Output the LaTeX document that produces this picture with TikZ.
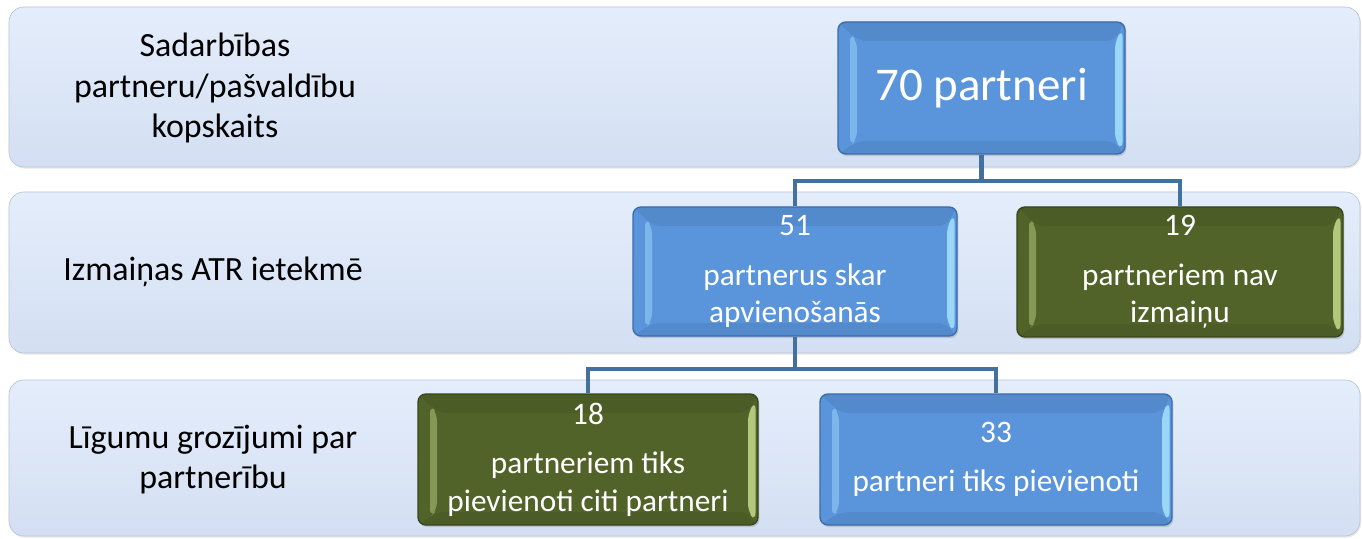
\documentclass[tikz,border=0pt]{standalone}
\definecolor{bandtop}{RGB}{228, 237, 251}
\definecolor{bandbot}{RGB}{211, 223, 242}
\definecolor{banddraw}{RGB}{188, 197, 212}
\definecolor{boxblue}{RGB}{90, 149, 220}
\definecolor{blueedge}{RGB}{60, 108, 170}
\definecolor{boxgreen}{RGB}{82, 99, 41}
\definecolor{greenedge}{RGB}{56, 70, 27}
\definecolor{linkblue}{RGB}{66, 113, 158}
\definecolor{shineblue}{RGB}{165, 226, 252}
\definecolor{shinegreen}{RGB}{196, 218, 140}
\usepackage{tikz}
\usetikzlibrary{shadows}
\usepackage{fontspec}
\setmainfont{Carlito}

\tikzset{
  band/.style={draw=banddraw, top color=bandtop, bottom color=bandbot, rounded corners=8.5pt,
    drop shadow={opacity=0.18, shadow xshift=0.6pt, shadow yshift=-0.9pt}},
  bandlabel/.style={align=center, font=\fontsize{19.3}{22.8}\selectfont},
  bevel/.style={path picture={
    \fill[black, opacity=0.07] (path picture bounding box.north west) -- (path picture bounding box.north east)
      -- ++(-0.22,-0.38) -- ([shift={(0.40,-0.38)}]path picture bounding box.north west) -- cycle;
    \fill[black, opacity=0.07] (path picture bounding box.south west) -- (path picture bounding box.south east)
      -- ++(-0.22,0.26) -- ([shift={(0.40,0.26)}]path picture bounding box.south west) -- cycle;
    \fill[#1, opacity=0.45] ([shift={(0.24,-0.22)}]path picture bounding box.north west) -- ++(0.14,-0.16)
      -- ([shift={(0.38,0.30)}]path picture bounding box.south west) -- ++(-0.14,-0.14) -- cycle;
    \fill[#1, opacity=0.85] ([shift={(-0.05,-0.14)}]path picture bounding box.north east) -- ++(-0.15,-0.24)
      -- ([shift={(-0.20,0.26)}]path picture bounding box.south east) -- ++(0.15,-0.18) -- cycle;
  }},
  chart/.style={rounded corners=4.5pt, line width=0.8pt, text=white, align=center, inner sep=0pt,
    font=\fontsize{17.8}{21.3}\selectfont,
    drop shadow={opacity=0.3, shadow xshift=0.8pt, shadow yshift=-1.2pt}},
  bluebox/.style={chart, fill=boxblue, draw=blueedge, bevel=shineblue},
  greenbox/.style={chart, fill=boxgreen, draw=greenedge, bevel=shinegreen},
  link/.style={draw=linkblue, line width=2.3pt},
}

\begin{document}
\begin{tikzpicture}
  \useasboundingbox (0, 0) rectangle (27.24, 10.76);

  % Background bands
  \path[band] (0.18, 7.42) rectangle (27.20, 10.62);
  \path[band] (0.18, 3.70) rectangle (27.20, 6.92);
  \path[band] (0.18, 0.04) rectangle (27.20, 3.16);

  % Band labels
  \node[bandlabel] (lab1) at (4.30, 9.00) {Sadarbības\\partneru/pašvaldību\\kopskaits};
  \node[bandlabel] (lab2) at (4.26, 5.32) {Izmaiņas ATR ietekmē};
  \node[bandlabel] (lab3) at (4.26, 1.56) {Līgumu grozījumi par\\partnerību};

  % Top level
  \node[bluebox, minimum width=5.74cm, minimum height=2.64cm, font=\fontsize{26.7}{32}\selectfont] (total) at (19.63, 9.00) {70 partneri};

  % Second level
  \node[bluebox, minimum width=6.48cm, minimum height=2.58cm] (merged) at (15.90, 5.33) {51\\[0.24cm]partnerus skar\\apvienošanās};
  \node[greenbox, minimum width=6.52cm, minimum height=2.60cm] (same) at (23.60, 5.32) {19\\[0.24cm]partneriem nav\\izmaiņu};

  % Third level
  \node[greenbox, minimum width=6.80cm, minimum height=2.62cm] (joined) at (11.76, 1.57) {18\\[0.24cm]partneriem tiks\\pievienoti citi partneri};
  \node[bluebox, minimum width=7.04cm, minimum height=2.62cm] (added) at (19.92, 1.57) {33\\[0.24cm]partneri tiks pievienoti};

  % Connectors
  \draw[link] (total.south) -- ++(0, -0.52) coordinate (fork1) -| (merged.north);
  \draw[link] (fork1) -| (same.north);
  \draw[link] (merged.south) -- ++(0, -0.64) coordinate (fork2) -| (joined.north);
  \draw[link] (fork2) -| (added.north);
\end{tikzpicture}
\end{document}
